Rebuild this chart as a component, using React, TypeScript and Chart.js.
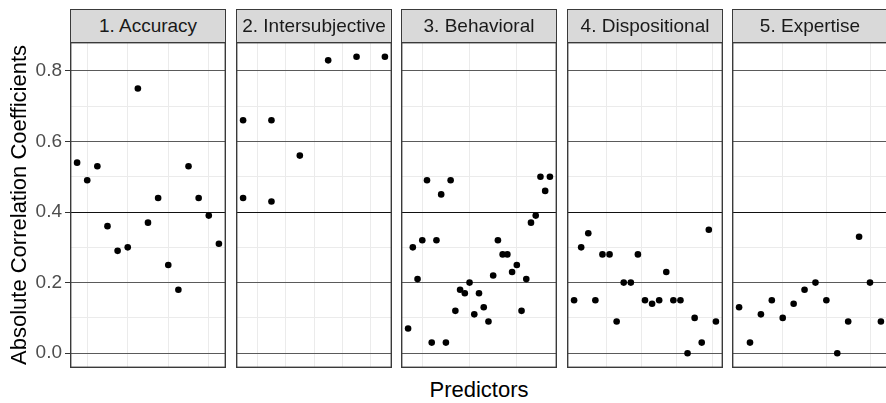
import React, { useEffect, useRef } from "react";
import { Chart, registerables } from "chart.js";

Chart.register(...registerables);

const FONT = "'Liberation Sans', Arial, Helvetica, sans-serif";
Chart.defaults.font.family = FONT;

// ---------------- data ----------------
const facetLabels = [
  "1. Accuracy",
  "2. Intersubjective",
  "3. Behavioral",
  "4. Dispositional",
  "5. Expertise",
];

const accuracy = [0.54, 0.49, 0.53, 0.36, 0.29, 0.3, 0.75, 0.37, 0.44, 0.25, 0.18, 0.53, 0.44, 0.39, 0.31];

const intersubjectiveX = [1, 1, 2, 2, 3, 4, 5, 6];
const intersubjective = [0.66, 0.44, 0.66, 0.43, 0.56, 0.83, 0.84, 0.84];

const behavioral = [
  0.07, 0.3, 0.21, 0.32, 0.49, 0.03, 0.32, 0.45, 0.03, 0.49, 0.12, 0.18, 0.17, 0.2, 0.11, 0.17,
  0.13, 0.09, 0.22, 0.32, 0.28, 0.28, 0.23, 0.25, 0.12, 0.21, 0.37, 0.39, 0.5, 0.46, 0.5,
];

const dispositional = [
  0.15, 0.3, 0.34, 0.15, 0.28, 0.28, 0.09, 0.2, 0.2, 0.28, 0.15, 0.14, 0.15, 0.23, 0.15, 0.15,
  0.0, 0.1, 0.03, 0.35, 0.09,
];

const expertise = [0.13, 0.03, 0.11, 0.15, 0.1, 0.14, 0.18, 0.2, 0.15, 0.0, 0.09, 0.33, 0.2, 0.09];

// x grid (minor break) positions per facet, in predictor index units
const accuracyXGrid = [2, 6, 10, 14];
const intersubjectiveXGrid = [1.5, 2.5, 3.5, 4.5, 5.5];
const behavioralXGrid = [4, 14, 24];
const dispositionalXGrid = [5.5, 10.5, 15.5, 20.5];
const expertiseXGrid = [5, 9, 13];

const yTickValues = [0, 0.1, 0.2, 0.3, 0.4, 0.5, 0.6, 0.7, 0.8];
const yLabelValues = [0, 0.2, 0.4, 0.6, 0.8];
const yHighlight = 0.4;
const Y_MIN = -0.042;
const Y_MAX = 0.882;

const yTitle = "Absolute Correlation Coefficients";
const xTitle = "Predictors";

const indexX = (arr: number[]) => arr.map((_, i) => i + 1);

const facetX = [indexX(accuracy), intersubjectiveX, indexX(behavioral), indexX(dispositional), indexX(expertise)];
const facetY = [accuracy, intersubjective, behavioral, dispositional, expertise];
const facetGrid = [accuracyXGrid, intersubjectiveXGrid, behavioralXGrid, dispositionalXGrid, expertiseXGrid];

// ---------------- layout ----------------
const PANEL_LEFT = [70, 236, 401, 567, 732];
const PANEL_W = 156;
const PANEL_TOP = 42;
const PANEL_H = 326;
const STRIP_TOP = 9;
const AXIS_W = 70;

const isLabeled = (v: number) => yLabelValues.some((l) => Math.abs(l - v) < 1e-9);

const zeroPad = (s: any) => {
  s.paddingTop = 0;
  s.paddingBottom = 0;
  s.paddingLeft = 0;
  s.paddingRight = 0;
};

const borderPlugin = {
  id: "panelBorder",
  afterDraw(chart: any) {
    const { ctx, chartArea } = chart;
    ctx.save();
    ctx.strokeStyle = "#3a3a3a";
    ctx.lineWidth = 1.4;
    ctx.strokeRect(chartArea.left + 0.7, chartArea.top + 0.7, chartArea.right - chartArea.left - 1.4, chartArea.bottom - chartArea.top - 1.4);
    ctx.restore();
  },
};

function Panel({ idx }: { idx: number }) {
  const ref = useRef<HTMLCanvasElement | null>(null);
  const first = idx === 0;
  const width = first ? AXIS_W + PANEL_W : PANEL_W;
  const left = first ? 0 : PANEL_LEFT[idx];

  useEffect(() => {
    if (!ref.current) return;
    const xs = facetX[idx];
    const ys = facetY[idx];
    const n = Math.max(...xs);
    const pad = 0.05 * (n - 1);
    const grid = facetGrid[idx];

    const chart = new Chart(ref.current, {
      type: "scatter",
      data: {
        datasets: [
          {
            data: xs.map((x, i) => ({ x, y: ys[i] })),
            backgroundColor: "#000",
            borderColor: "#000",
            borderWidth: 0,
            pointRadius: 3.3,
            pointHoverRadius: 3.3,
            clip: false,
          },
        ],
      },
      options: {
        animation: false,
        responsive: false,
        maintainAspectRatio: false,
        events: [],
        layout: { padding: 0, autoPadding: false },
        plugins: { legend: { display: false }, tooltip: { enabled: false }, title: { display: false } },
        scales: {
          x: {
            type: "linear",
            min: 1 - pad,
            max: n + pad,
            afterBuildTicks: (s: any) => {
              s.ticks = grid.map((v) => ({ value: v }));
            },
            afterFit: (s: any) => {
              s.height = 0;
              zeroPad(s);
            },
            ticks: { display: false },
            grid: { color: "#ebebeb", lineWidth: 1, drawTicks: false, z: -2 },
            border: { display: false },
          },
          y: {
            type: "linear",
            min: Y_MIN,
            max: Y_MAX,
            afterBuildTicks: (s: any) => {
              s.ticks = yTickValues.map((v) => ({ value: v }));
            },
            afterFit: (s: any) => {
              s.width = first ? AXIS_W : 0;
              zeroPad(s);
            },
            ticks: {
              display: first,
              autoSkip: false,
              padding: 3,
              color: "#4d4d4d",
              font: { size: 19 },
              callback: (v: any) => (isLabeled(Number(v)) ? Number(v).toFixed(1) : ""),
            },
            grid: {
              drawTicks: first,
              tickLength: 5,
              lineWidth: 1,
              color: (c: any) => {
                const v = c.tick ? c.tick.value : 0;
                if (Math.abs(v - yHighlight) < 1e-9) return "#111111";
                return isLabeled(v) ? "#5a5a5a" : "#ebebeb";
              },
              tickColor: (c: any) => {
                const v = c.tick ? c.tick.value : 0;
                return isLabeled(v) ? "#333333" : "rgba(0,0,0,0)";
              },
            },
            border: { display: false },
            title: {
              display: first,
              text: yTitle,
              color: "#000",
              font: { size: 22 },
              padding: { top: 7, bottom: 0 },
            },
          },
        },
      },
      plugins: [borderPlugin],
    } as any);
    return () => chart.destroy();
  }, [idx, first]);

  return (
    <canvas
      ref={ref}
      width={width}
      height={PANEL_H}
      style={{ position: "absolute", left, top: PANEL_TOP, width, height: PANEL_H }}
    />
  );
}

function Strip({ idx }: { idx: number }) {
  return (
    <div
      style={{
        position: "absolute",
        left: PANEL_LEFT[idx],
        top: STRIP_TOP,
        width: PANEL_W,
        height: PANEL_TOP - STRIP_TOP + 1,
        boxSizing: "border-box",
        border: "1.4px solid #3a3a3a",
        background: "#d9d9d9",
        color: "#1a1a1a",
        fontSize: 19,
        display: "flex",
        alignItems: "center",
        justifyContent: "center",
        whiteSpace: "nowrap",
      }}
    >
      {facetLabels[idx]}
    </div>
  );
}

export default function App() {
  return (
    <div
      style={{
        position: "fixed",
        left: 0,
        top: 0,
        width: 886,
        height: 403,
        overflow: "hidden",
        background: "#fff",
        fontFamily: FONT,
      }}
    >
      {facetLabels.map((_, i) => (
        <Panel key={"p" + i} idx={i} />
      ))}
      {facetLabels.map((_, i) => (
        <Strip key={"s" + i} idx={i} />
      ))}
      <div
        style={{
          position: "absolute",
          left: 70,
          width: 818,
          top: 379,
          fontSize: 22,
          lineHeight: "22px",
          textAlign: "center",
          color: "#000",
        }}
      >
        {xTitle}
      </div>
    </div>
  );
}
